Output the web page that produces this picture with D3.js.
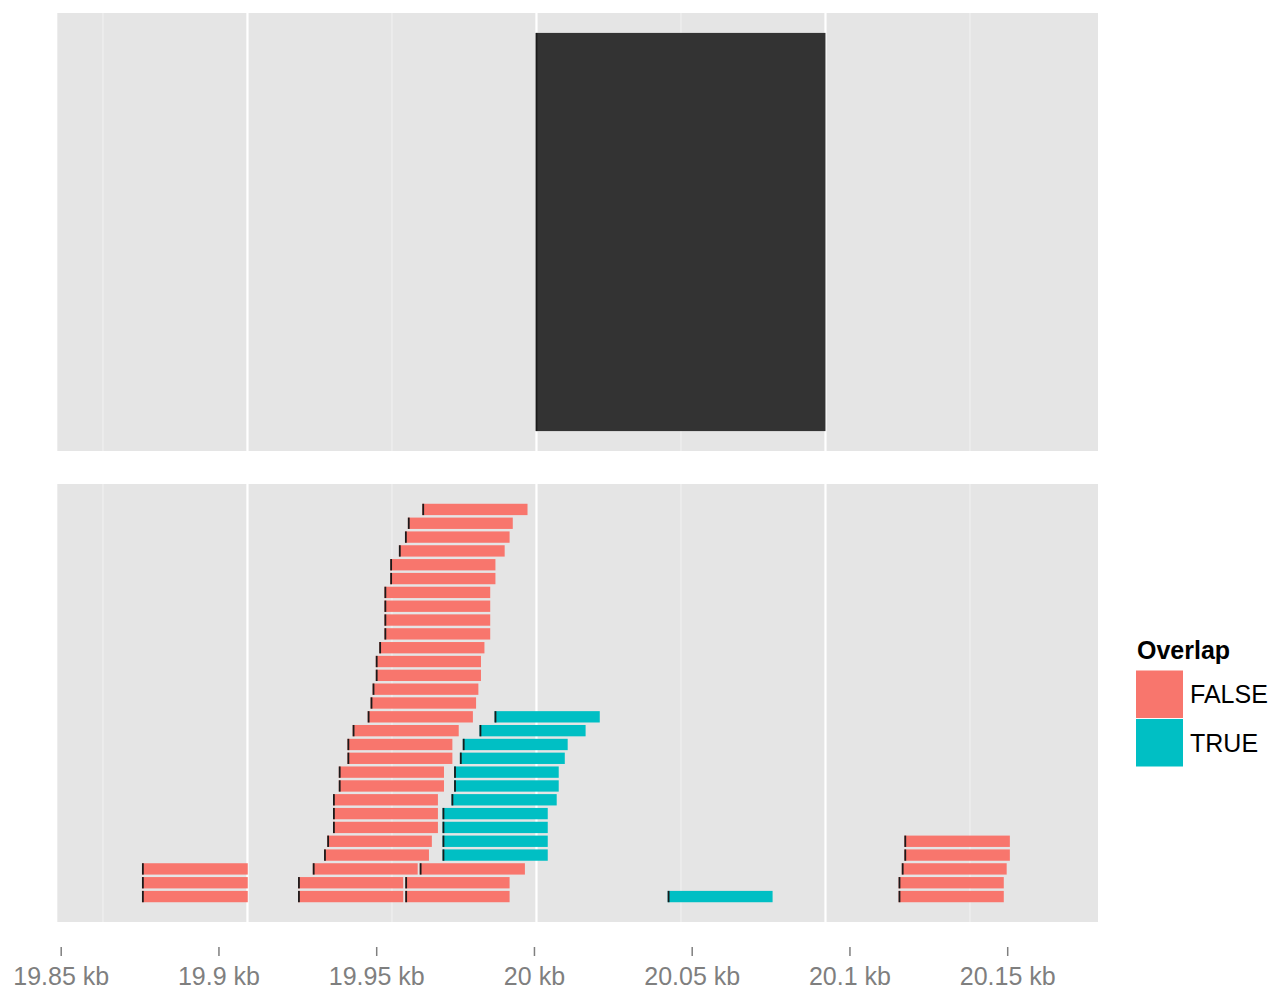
<!DOCTYPE html>
<html>
<head>
<meta charset="utf-8">
<script src="https://cdn.jsdelivr.net/npm/d3@7"></script>
<style>
  html, body { margin: 0; padding: 0; background: #ffffff; }
  svg { display: block; font-family: "Liberation Sans", Arial, Helvetica, sans-serif; }
</style>
</head>
<body>
<svg id="chart" width="1276" height="989"></svg>
<script>
// ---------------- DATA ----------------
// Gene region shown in the top track (bp)
const geneStart = [20000];
const geneEnd = [20100];

// Reads in the bottom track: stacking level, start, end (bp), overlap flag
const readLevel = [
  1, 1, 1, 1, 1,
  2, 2, 2, 2,
  3, 3, 3, 3,
  4, 4, 4,
  5, 5, 5,
  6, 6,
  7, 7,
  8, 8,
  9, 9,
  10, 10,
  11, 11,
  12, 12,
  13, 13,
  14, 14,
  15, 16, 17, 18, 19, 20, 21, 22, 23, 24, 25, 26, 27, 28, 29
];
const readStart = [
  19863.5, 19917.5, 19954.6, 20045.4, 20125.3,
  19863.5, 19917.5, 19954.6, 20125.3,
  19863.5, 19922.6, 19959.6, 20126.4,
  19926.5, 19967.5, 20127.3,
  19927.6, 19967.5, 20127.3,
  19929.6, 19967.5,
  19929.6, 19967.5,
  19929.6, 19970.6,
  19931.6, 19971.5,
  19931.6, 19971.5,
  19934.6, 19973.5,
  19934.6, 19974.5,
  19936.4, 19980.3,
  19941.6, 19985.5,
  19942.6, 19943.3, 19944.4, 19944.4, 19945.6, 19947.4, 19947.4, 19947.4, 19947.4,
  19949.4, 19949.4, 19952.4, 19954.5, 19955.5, 19960.5
];
const readEnd = [
  19900.1, 19953.9, 19990.7, 20081.7, 20161.7,
  19900.1, 19953.9, 19990.7, 20161.7,
  19900.1, 19958.9, 19996.0, 20162.7,
  19962.8, 20003.9, 20163.8,
  19963.8, 20003.9, 20163.8,
  19965.9, 20003.9,
  19965.9, 20003.9,
  19965.9, 20007.0,
  19968.0, 20007.7,
  19968.0, 20007.7,
  19970.9, 20009.8,
  19970.9, 20010.8,
  19973.1, 20017.0,
  19978.0, 20021.9,
  19979.1, 19979.9, 19980.8, 19980.8, 19982.0, 19984.0, 19984.0, 19984.0, 19984.0,
  19985.8, 19985.8, 19989.0, 19990.7, 19991.8, 19996.9
];
const readOverlap = [
  false, false, false, true, false,
  false, false, false, false,
  false, false, false, false,
  false, true, false,
  false, true, false,
  false, true,
  false, true,
  false, true,
  false, true,
  false, true,
  false, true,
  false, true,
  false, true,
  false, true,
  false, false, false, false, false, false, false, false, false,
  false, false, false, false, false, false
];

// Grid breaks inside the track panels (bp)
const majorBreaks = [19900, 20000, 20100];
const minorBreaks = [19850, 19950, 20050, 20150];

// Shared bottom axis
const axisTicks = [19850, 19900, 19950, 20000, 20050, 20100, 20150];
const axisLabels = ["19.85 kb", "19.9 kb", "19.95 kb", "20 kb", "20.05 kb", "20.1 kb", "20.15 kb"];

const legendTitle = "Overlap";
const legendKeys = [false, true];
const legendLabels = ["FALSE", "TRUE"];

// ---------------- DRAWING ----------------
const svg = d3.select("#chart");

const panelLeft = 57.3, panelRight = 1098;
const topPanel = { y0: 13, y1: 451 };
const botPanel = { y0: 484, y1: 922 };

// x scale of the track panels
const xPanel = d3.scaleLinear().domain([19834.2, 20194.3]).range([panelLeft, panelRight]);
// x scale of the separately drawn axis
const xAxisScale = d3.scaleLinear().domain([19850, 20150]).range([60.7, 1007.2]);

const yTop = d3.scaleLinear().domain([-0.05, 1.05]).range([topPanel.y1, topPanel.y0]);
const yBot = d3.scaleLinear().domain([-0.84, 30.84]).range([botPanel.y1, botPanel.y0]);

const color = d3.scaleOrdinal().domain([false, true]).range(["#F8766D", "#00BFC4"]);

function drawPanel(p) {
  const g = svg.append("g");
  g.append("rect")
    .attr("x", panelLeft).attr("y", p.y0)
    .attr("width", panelRight - panelLeft).attr("height", p.y1 - p.y0)
    .attr("fill", "#E5E5E5");
  g.selectAll("line.minor").data(minorBreaks).join("line")
    .attr("x1", d => xPanel(d)).attr("x2", d => xPanel(d))
    .attr("y1", p.y0).attr("y2", p.y1)
    .attr("stroke", "#F2F2F2").attr("stroke-width", 1.1);
  g.selectAll("line.major").data(majorBreaks).join("line")
    .attr("x1", d => xPanel(d)).attr("x2", d => xPanel(d))
    .attr("y1", p.y0).attr("y2", p.y1)
    .attr("stroke", "#FFFFFF").attr("stroke-width", 2.2);
  return g;
}

// Top track
const gTop = drawPanel(topPanel);
const genes = geneStart.map((s, i) => ({ start: s, end: geneEnd[i] }));
gTop.selectAll("rect.gene").data(genes).join("rect")
  .attr("x", d => xPanel(d.start)).attr("width", d => xPanel(d.end) - xPanel(d.start))
  .attr("y", yTop(1)).attr("height", yTop(0) - yTop(1))
  .attr("fill", "#333333");
gTop.selectAll("rect.geneEdge").data(genes).join("rect")
  .attr("x", d => xPanel(d.start) - 0.9).attr("width", 1.8)
  .attr("y", yTop(1)).attr("height", yTop(0) - yTop(1))
  .attr("fill", "#1A1A1A");

// Bottom track
const gBot = drawPanel(botPanel);
const reads = readStart.map((s, i) => ({
  level: readLevel[i], start: s, end: readEnd[i], overlap: readOverlap[i]
}));
gBot.selectAll("rect.read").data(reads).join("rect")
  .attr("x", d => xPanel(d.start)).attr("width", d => xPanel(d.end) - xPanel(d.start))
  .attr("y", d => yBot(d.level + 0.41)).attr("height", d => yBot(d.level - 0.41) - yBot(d.level + 0.41))
  .attr("fill", d => color(d.overlap));
gBot.selectAll("rect.tick").data(reads).join("rect")
  .attr("x", d => xPanel(d.start)).attr("width", 1.8)
  .attr("y", d => yBot(d.level + 0.41)).attr("height", d => yBot(d.level - 0.41) - yBot(d.level + 0.41))
  .attr("fill", "#1A1A1A");

// Bottom axis (separate track)
const axis = d3.axisBottom(xAxisScale)
  .tickValues(axisTicks)
  .tickFormat((d, i) => axisLabels[i])
  .tickSize(9)
  .tickPadding(11);
const gAxis = svg.append("g").attr("transform", "translate(0,947)").call(axis);
gAxis.select(".domain").remove();
gAxis.selectAll(".tick line").attr("stroke", "#7F7F7F").attr("stroke-width", 1.5);
gAxis.selectAll(".tick text")
  .attr("fill", "#7F7F7F")
  .attr("font-size", 25)
  .attr("font-family", "Liberation Sans, Arial, sans-serif");

// Legend
const gLeg = svg.append("g");
gLeg.append("text")
  .attr("x", 1137).attr("y", 659)
  .attr("font-size", 25).attr("font-weight", "bold").attr("fill", "#000")
  .text(legendTitle);
const keyY = d3.scaleBand().domain(legendKeys).range([670.5, 766.5]).paddingInner(0.02);
gLeg.selectAll("rect.key").data(legendKeys).join("rect")
  .attr("x", 1136).attr("y", d => keyY(d))
  .attr("width", 47).attr("height", keyY.bandwidth())
  .attr("fill", d => color(d));
gLeg.selectAll("text.lab").data(legendKeys).join("text")
  .attr("x", 1190).attr("y", d => keyY(d) + keyY.bandwidth() / 2 + 9)
  .attr("font-size", 25).attr("fill", "#000")
  .text((d, i) => legendLabels[i]);
</script>
</body>
</html>
